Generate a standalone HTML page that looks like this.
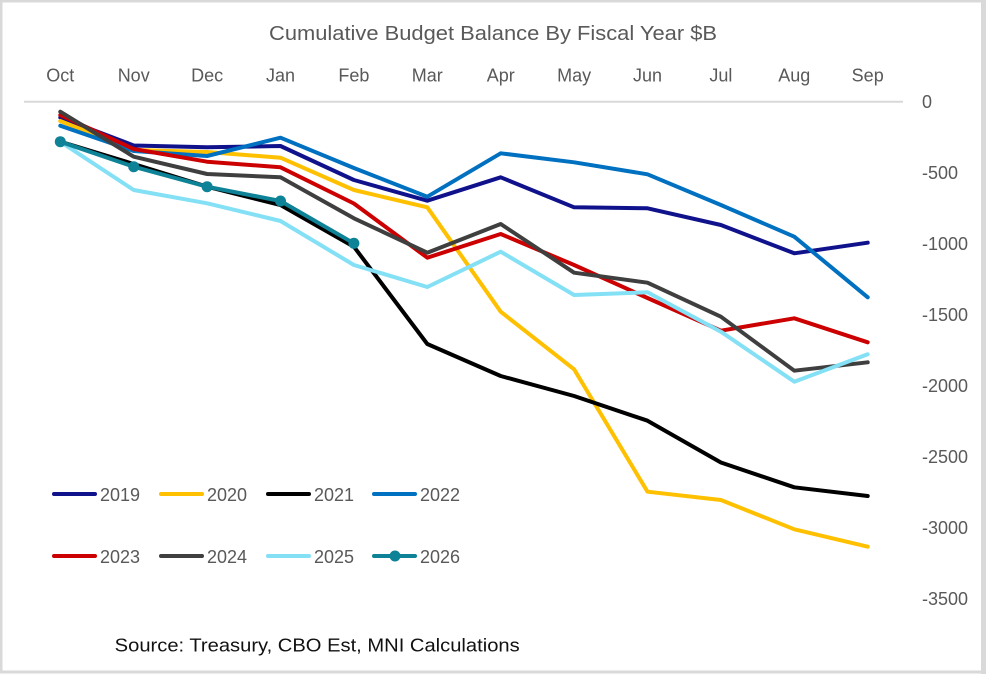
<!DOCTYPE html>
<html>
<head>
<meta charset="utf-8">
<style>
  html, body { margin: 0; padding: 0; background: #fff; }
  svg { display: block; }
  text { font-family: "Liberation Sans", sans-serif; }
</style>
</head>
<body>
<svg width="986" height="674" viewBox="0 0 986 674" xmlns="http://www.w3.org/2000/svg">
  <rect x="0" y="0" width="986" height="674" fill="#ffffff"/>
  <!-- border -->
  <rect x="1" y="1" width="982" height="671" fill="none" stroke="#d9d9d9" stroke-width="3"/>
  <rect x="981" y="0" width="5" height="674" fill="#d9d9d9"/>

  <!-- title -->
  <text x="493" y="40" font-size="20" fill="#595959" text-anchor="middle" textLength="448" lengthAdjust="spacingAndGlyphs">Cumulative Budget Balance By Fiscal Year $B</text>

  <!-- month labels -->
  <g font-size="18" fill="#595959" text-anchor="middle">
    <text x="60.3" y="81.5">Oct</text>
    <text x="133.7" y="81.5">Nov</text>
    <text x="207.1" y="81.5">Dec</text>
    <text x="280.5" y="81.5">Jan</text>
    <text x="353.9" y="81.5">Feb</text>
    <text x="427.3" y="81.5">Mar</text>
    <text x="500.7" y="81.5">Apr</text>
    <text x="574.1" y="81.5">May</text>
    <text x="647.5" y="81.5">Jun</text>
    <text x="720.9" y="81.5">Jul</text>
    <text x="794.3" y="81.5">Aug</text>
    <text x="867.7" y="81.5">Sep</text>
  </g>

  <!-- zero gridline -->
  <line x1="24" y1="101.7" x2="903" y2="101.7" stroke="#d9d9d9" stroke-width="2"/>

  <!-- y labels -->
  <g font-size="18" fill="#595959">
    <text x="922" y="108">0</text>
    <text x="922" y="179">-500</text>
    <text x="922" y="250">-1000</text>
    <text x="922" y="321">-1500</text>
    <text x="922" y="392">-2000</text>
    <text x="922" y="463">-2500</text>
    <text x="922" y="534">-3000</text>
    <text x="922" y="605">-3500</text>
  </g>

  <!-- series -->
  <g fill="none" stroke-width="4" stroke-linecap="round" stroke-linejoin="round">
    <!-- 2019 -->
    <polyline stroke="#10128C" points="60.3,117.5 133.7,145.5 207.1,147.3 280.5,146 353.9,180 427.3,200.7 500.7,177.3 574.1,207.3 647.5,208.3 720.9,225 794.3,253.3 867.7,242.7"/>
    <!-- 2020 -->
    <polyline stroke="#FFC000" points="60.3,121 133.7,150 207.1,152 280.5,157.7 353.9,190 427.3,207.3 500.7,311.7 574.1,369.3 647.5,491.7 720.9,500 794.3,529.3 867.7,546.7"/>
    <!-- 2021 -->
    <polyline stroke="#000000" points="60.3,141.7 133.7,164 207.1,186.7 280.5,205 353.9,246.7 427.3,344 500.7,376 574.1,396 647.5,420.7 720.9,462.5 794.3,487.3 867.7,496"/>
    <!-- 2022 -->
    <polyline stroke="#0070C0" points="60.3,125.7 133.7,151 207.1,156 280.5,137.7 353.9,168 427.3,196.7 500.7,153.3 574.1,162.3 647.5,174.3 720.9,205 794.3,236.7 867.7,297.3"/>
    <!-- 2023 -->
    <polyline stroke="#CC0000" points="60.3,115 133.7,149 207.1,161.7 280.5,167.3 353.9,203.5 427.3,257.7 500.7,234 574.1,265 647.5,298 720.9,330.7 794.3,318.3 867.7,342.3"/>
    <!-- 2024 -->
    <polyline stroke="#3F3F3F" points="60.3,111.7 133.7,156.7 207.1,174 280.5,177.3 353.9,218.3 427.3,252.7 500.7,224 574.1,272.7 647.5,282.7 720.9,316.7 794.3,370.7 867.7,362.3"/>
    <!-- 2025 -->
    <polyline stroke="#83E0F5" points="60.3,141.7 133.7,190 207.1,203.3 280.5,221 353.9,265 427.3,287 500.7,251.7 574.1,295 647.5,292.3 720.9,331.7 794.3,381.7 867.7,354.3"/>
    <!-- 2026 -->
    <polyline stroke="#0E8297" points="60.3,141.7 133.7,166.7 207.1,186.7 280.5,201 353.9,243.3"/>
  </g>
  <g fill="#0E8297">
    <circle cx="60.3" cy="141.7" r="5.5"/>
    <circle cx="133.7" cy="166.7" r="5.5"/>
    <circle cx="207.1" cy="186.7" r="5.5"/>
    <circle cx="280.5" cy="201" r="5.5"/>
    <circle cx="353.9" cy="243.3" r="5.5"/>
  </g>

  <!-- legend -->
  <g stroke-width="4" stroke-linecap="round">
    <line x1="54" y1="494" x2="95" y2="494" stroke="#10128C"/>
    <line x1="161" y1="494" x2="202" y2="494" stroke="#FFC000"/>
    <line x1="268" y1="494" x2="309" y2="494" stroke="#000000"/>
    <line x1="374" y1="494" x2="415" y2="494" stroke="#0070C0"/>
    <line x1="54" y1="556" x2="95" y2="556" stroke="#CC0000"/>
    <line x1="161" y1="556" x2="202" y2="556" stroke="#3F3F3F"/>
    <line x1="268" y1="556" x2="309" y2="556" stroke="#83E0F5"/>
    <line x1="374" y1="556" x2="415" y2="556" stroke="#0E8297"/>
  </g>
  <circle cx="395" cy="556" r="5.5" fill="#0E8297"/>
  <g font-size="18" fill="#595959">
    <text x="100" y="501">2019</text>
    <text x="207" y="501">2020</text>
    <text x="314" y="501">2021</text>
    <text x="420" y="501">2022</text>
    <text x="100" y="563">2023</text>
    <text x="207" y="563">2024</text>
    <text x="314" y="563">2025</text>
    <text x="420" y="563">2026</text>
  </g>

  <!-- source -->
  <text x="114.7" y="651.7" font-size="18.5" fill="#111111" textLength="405" lengthAdjust="spacingAndGlyphs">Source: Treasury, CBO Est, MNI Calculations</text>
</svg>
</body>
</html>
